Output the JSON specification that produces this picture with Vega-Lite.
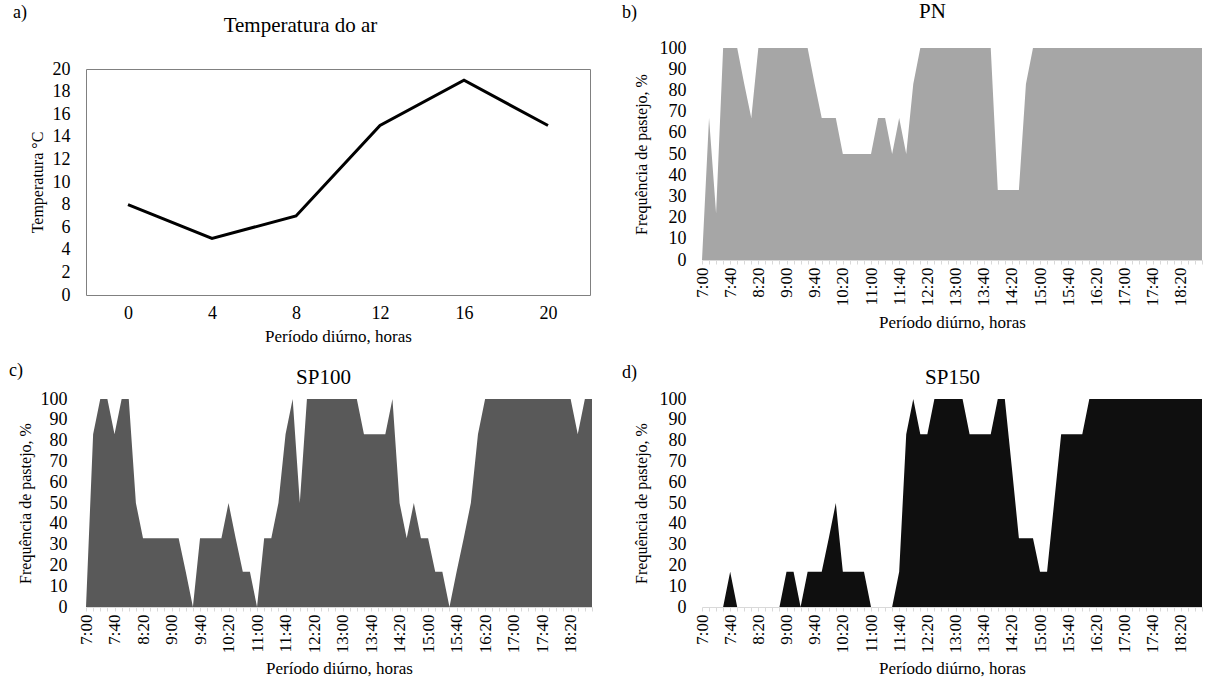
{
  "$schema": "https://vega.github.io/schema/vega-lite/v6.json",
  "background": "white",
  "padding": {"left": 9, "top": 0, "right": 0, "bottom": 0},
  "config": {
    "font": "Liberation Serif",
    "view": {"stroke": null},
    "axis": {"labelFont": "Liberation Serif", "titleFont": "Liberation Serif", "labelColor": "#000", "titleColor": "#000", "titleFontWeight": "normal", "grid": false},
    "title": {"font": "Liberation Serif", "fontWeight": "normal", "color": "#000"}
  },
  "datasets": {
    "temp": [
      {"hora": 0, "temp": 8}, {"hora": 4, "temp": 5}, {"hora": 8, "temp": 7},
      {"hora": 12, "temp": 15}, {"hora": 16, "temp": 19}, {"hora": 20, "temp": 15}
    ],
    "pn": [
      {"hora":"7:00","freq":0},{"hora":"7:10","freq":67},{"hora":"7:20","freq":22},{"hora":"7:30","freq":100},{"hora":"7:40","freq":100},{"hora":"7:50","freq":100},
      {"hora":"8:00","freq":83},{"hora":"8:10","freq":67},{"hora":"8:20","freq":100},{"hora":"8:30","freq":100},{"hora":"8:40","freq":100},{"hora":"8:50","freq":100},
      {"hora":"9:00","freq":100},{"hora":"9:10","freq":100},{"hora":"9:20","freq":100},{"hora":"9:30","freq":100},{"hora":"9:40","freq":83},{"hora":"9:50","freq":67},
      {"hora":"10:00","freq":67},{"hora":"10:10","freq":67},{"hora":"10:20","freq":50},{"hora":"10:30","freq":50},{"hora":"10:40","freq":50},{"hora":"10:50","freq":50},
      {"hora":"11:00","freq":50},{"hora":"11:10","freq":67},{"hora":"11:20","freq":67},{"hora":"11:30","freq":50},{"hora":"11:40","freq":67},{"hora":"11:50","freq":50},
      {"hora":"12:00","freq":83},{"hora":"12:10","freq":100},{"hora":"12:20","freq":100},{"hora":"12:30","freq":100},{"hora":"12:40","freq":100},{"hora":"12:50","freq":100},
      {"hora":"13:00","freq":100},{"hora":"13:10","freq":100},{"hora":"13:20","freq":100},{"hora":"13:30","freq":100},{"hora":"13:40","freq":100},{"hora":"13:50","freq":100},
      {"hora":"14:00","freq":33},{"hora":"14:10","freq":33},{"hora":"14:20","freq":33},{"hora":"14:30","freq":33},{"hora":"14:40","freq":83},{"hora":"14:50","freq":100},
      {"hora":"15:00","freq":100},{"hora":"15:10","freq":100},{"hora":"15:20","freq":100},{"hora":"15:30","freq":100},{"hora":"15:40","freq":100},{"hora":"15:50","freq":100},
      {"hora":"16:00","freq":100},{"hora":"16:10","freq":100},{"hora":"16:20","freq":100},{"hora":"16:30","freq":100},{"hora":"16:40","freq":100},{"hora":"16:50","freq":100},
      {"hora":"17:00","freq":100},{"hora":"17:10","freq":100},{"hora":"17:20","freq":100},{"hora":"17:30","freq":100},{"hora":"17:40","freq":100},{"hora":"17:50","freq":100},
      {"hora":"18:00","freq":100},{"hora":"18:10","freq":100},{"hora":"18:20","freq":100},{"hora":"18:30","freq":100},{"hora":"18:40","freq":100},{"hora":"18:50","freq":100}
    ],
    "sp100": [
      {"hora":"7:00","freq":0},{"hora":"7:10","freq":83},{"hora":"7:20","freq":100},{"hora":"7:30","freq":100},{"hora":"7:40","freq":83},{"hora":"7:50","freq":100},
      {"hora":"8:00","freq":100},{"hora":"8:10","freq":50},{"hora":"8:20","freq":33},{"hora":"8:30","freq":33},{"hora":"8:40","freq":33},{"hora":"8:50","freq":33},
      {"hora":"9:00","freq":33},{"hora":"9:10","freq":33},{"hora":"9:20","freq":17},{"hora":"9:30","freq":0},{"hora":"9:40","freq":33},{"hora":"9:50","freq":33},
      {"hora":"10:00","freq":33},{"hora":"10:10","freq":33},{"hora":"10:20","freq":50},{"hora":"10:30","freq":33},{"hora":"10:40","freq":17},{"hora":"10:50","freq":17},
      {"hora":"11:00","freq":0},{"hora":"11:10","freq":33},{"hora":"11:20","freq":33},{"hora":"11:30","freq":50},{"hora":"11:40","freq":83},{"hora":"11:50","freq":100},
      {"hora":"12:00","freq":50},{"hora":"12:10","freq":100},{"hora":"12:20","freq":100},{"hora":"12:30","freq":100},{"hora":"12:40","freq":100},{"hora":"12:50","freq":100},
      {"hora":"13:00","freq":100},{"hora":"13:10","freq":100},{"hora":"13:20","freq":100},{"hora":"13:30","freq":83},{"hora":"13:40","freq":83},{"hora":"13:50","freq":83},
      {"hora":"14:00","freq":83},{"hora":"14:10","freq":100},{"hora":"14:20","freq":50},{"hora":"14:30","freq":33},{"hora":"14:40","freq":50},{"hora":"14:50","freq":33},
      {"hora":"15:00","freq":33},{"hora":"15:10","freq":17},{"hora":"15:20","freq":17},{"hora":"15:30","freq":0},{"hora":"15:40","freq":17},{"hora":"15:50","freq":33},
      {"hora":"16:00","freq":50},{"hora":"16:10","freq":83},{"hora":"16:20","freq":100},{"hora":"16:30","freq":100},{"hora":"16:40","freq":100},{"hora":"16:50","freq":100},
      {"hora":"17:00","freq":100},{"hora":"17:10","freq":100},{"hora":"17:20","freq":100},{"hora":"17:30","freq":100},{"hora":"17:40","freq":100},{"hora":"17:50","freq":100},
      {"hora":"18:00","freq":100},{"hora":"18:10","freq":100},{"hora":"18:20","freq":100},{"hora":"18:30","freq":83},{"hora":"18:40","freq":100},{"hora":"18:50","freq":100}
    ],
    "sp150": [
      {"hora":"7:00","freq":0},{"hora":"7:10","freq":0},{"hora":"7:20","freq":0},{"hora":"7:30","freq":0},{"hora":"7:40","freq":17},{"hora":"7:50","freq":0},
      {"hora":"8:00","freq":0},{"hora":"8:10","freq":0},{"hora":"8:20","freq":0},{"hora":"8:30","freq":0},{"hora":"8:40","freq":0},{"hora":"8:50","freq":0},
      {"hora":"9:00","freq":17},{"hora":"9:10","freq":17},{"hora":"9:20","freq":0},{"hora":"9:30","freq":17},{"hora":"9:40","freq":17},{"hora":"9:50","freq":17},
      {"hora":"10:00","freq":33},{"hora":"10:10","freq":50},{"hora":"10:20","freq":17},{"hora":"10:30","freq":17},{"hora":"10:40","freq":17},{"hora":"10:50","freq":17},
      {"hora":"11:00","freq":0},{"hora":"11:10","freq":0},{"hora":"11:20","freq":0},{"hora":"11:30","freq":0},{"hora":"11:40","freq":17},{"hora":"11:50","freq":83},
      {"hora":"12:00","freq":100},{"hora":"12:10","freq":83},{"hora":"12:20","freq":83},{"hora":"12:30","freq":100},{"hora":"12:40","freq":100},{"hora":"12:50","freq":100},
      {"hora":"13:00","freq":100},{"hora":"13:10","freq":100},{"hora":"13:20","freq":83},{"hora":"13:30","freq":83},{"hora":"13:40","freq":83},{"hora":"13:50","freq":83},
      {"hora":"14:00","freq":100},{"hora":"14:10","freq":100},{"hora":"14:20","freq":67},{"hora":"14:30","freq":33},{"hora":"14:40","freq":33},{"hora":"14:50","freq":33},
      {"hora":"15:00","freq":17},{"hora":"15:10","freq":17},{"hora":"15:20","freq":50},{"hora":"15:30","freq":83},{"hora":"15:40","freq":83},{"hora":"15:50","freq":83},
      {"hora":"16:00","freq":83},{"hora":"16:10","freq":100},{"hora":"16:20","freq":100},{"hora":"16:30","freq":100},{"hora":"16:40","freq":100},{"hora":"16:50","freq":100},
      {"hora":"17:00","freq":100},{"hora":"17:10","freq":100},{"hora":"17:20","freq":100},{"hora":"17:30","freq":100},{"hora":"17:40","freq":100},{"hora":"17:50","freq":100},
      {"hora":"18:00","freq":100},{"hora":"18:10","freq":100},{"hora":"18:20","freq":100},{"hora":"18:30","freq":100},{"hora":"18:40","freq":100},{"hora":"18:50","freq":100}
    ]
  },
  "spacing": 22,
  "hconcat": [
    {
      "spacing": 17,
      "vconcat": [
        {
          "spacing": 10,
          "vconcat": [
            {
              "title": {"text": "a)", "anchor": "start", "frame": "bounds", "fontSize": 18, "offset": 0, "dx": -73, "dy": 8},
              "width": 504,
              "height": 1,
              "data": {"name": "temp"},
              "mark": {"type": "line", "opacity": 0},
              "encoding": {
                "x": {"field": "hora", "type": "ordinal", "sort": null,
                      "axis": {"orient": "top", "title": "Temperatura do ar", "labels": false, "ticks": false, "domain": false, "titleFont": "Liberation Serif", "titleFontSize": 21, "titlePadding": 13, "titleX": 214}},
                "y": {"field": "temp", "type": "quantitative", "axis": null}
              }
            },
            {
              "width": 504,
              "height": 226,
              "data": {"name": "temp"},
              "view": {"stroke": "#808080", "strokeWidth": 1},
              "mark": {"type": "line", "color": "#000000", "strokeWidth": 3},
              "encoding": {
                "x": {"field": "hora", "type": "ordinal", "sort": null, "scale": {"type": "point", "padding": 0.5},
                      "axis": {"orient": "bottom", "title": "Período diúrno, horas", "labelAngle": 0, "domain": false, "ticks": false, "labelFont": "Liberation Serif", "titleFont": "Liberation Serif", "labelFontSize": 18, "titleFontSize": 17, "labelPadding": 9, "titlePadding": 6}},
                "y": {"field": "temp", "type": "quantitative", "scale": {"domain": [0, 20]},
                      "axis": {"values": [0, 2, 4, 6, 8, 10, 12, 14, 16, 18, 20], "title": "Temperatura °C", "domain": false, "ticks": false, "labelFont": "Liberation Serif", "titleFont": "Liberation Serif", "labelFontSize": 18, "titleFontSize": 16, "labelPadding": 16, "titlePadding": 7}}
              }
            }
          ]
        },
        {
          "title": {"text": "c)", "anchor": "start", "frame": "bounds", "fontSize": 18, "offset": 0, "dx": -8, "dy": 14},
          "width": 506,
          "height": 208,
          "data": {"name": "sp100"},
          "encoding": {
            "y": {"field": "freq", "type": "quantitative", "scale": {"domain": [0, 100]},
                  "axis": {"values": [0, 10, 20, 30, 40, 50, 60, 70, 80, 90, 100], "title": "Frequência de pastejo, %", "domain": false, "ticks": false, "labelFont": "Liberation Serif", "titleFont": "Liberation Serif", "labelFontSize": 18, "titleFontSize": 16, "labelPadding": 19, "titlePadding": 7}}
          },
          "layer": [
            {
              "mark": {"type": "area", "color": "#595959"},
              "encoding": {
                "x": {"field": "hora", "type": "ordinal", "sort": null, "scale": {"type": "point", "padding": 0},
                      "axis": {"orient": "bottom", "title": "Período diúrno, horas", "labelAngle": -90, "labelOverlap": false,
                               "labelExpr": "indexof(['7:00','7:40','8:20','9:00','9:40','10:20','11:00','11:40','12:20','13:00','13:40','14:20','15:00','15:40','16:20','17:00','17:40','18:20'], datum.value) >= 0 ? datum.value : ''",
                               "domainColor": "#d9d9d9", "tickColor": "#d9d9d9", "tickSize": 4, "labelFont": "Liberation Serif", "titleFont": "Liberation Serif", "labelFontSize": 17, "titleFontSize": 17, "labelPadding": 3, "titlePadding": 8}}
              }
            },
            {
              "mark": {"type": "area", "opacity": 0},
              "encoding": {
                "x": {"field": "hora", "type": "ordinal", "sort": null,
                      "axis": {"orient": "top", "title": "SP100", "labels": false, "ticks": false, "domain": false, "titleFont": "Liberation Serif", "titleFontSize": 21, "titlePadding": 12, "titleX": 237}}
              }
            }
          ],
          "resolve": {"axis": {"x": "independent"}}
        }
      ]
    },
    {
      "spacing": 33,
      "vconcat": [
        {
          "title": {"text": "b)", "anchor": "start", "frame": "bounds", "fontSize": 18, "offset": 0, "dx": -11, "dy": 22},
          "width": 500,
          "height": 212,
          "data": {"name": "pn"},
          "encoding": {
            "y": {"field": "freq", "type": "quantitative", "scale": {"domain": [0, 100]},
                  "axis": {"values": [0, 10, 20, 30, 40, 50, 60, 70, 80, 90, 100], "title": "Frequência de pastejo, %", "domain": false, "ticks": false, "labelFont": "Liberation Serif", "titleFont": "Liberation Serif", "labelFontSize": 18, "titleFontSize": 16, "labelPadding": 16, "titlePadding": 10}}
          },
          "layer": [
            {
              "mark": {"type": "area", "color": "#a6a6a6"},
              "encoding": {
                "x": {"field": "hora", "type": "ordinal", "sort": null, "scale": {"type": "point", "padding": 0},
                      "axis": {"orient": "bottom", "title": "Período diúrno, horas", "labelAngle": -90, "labelOverlap": false,
                               "labelExpr": "indexof(['7:00','7:40','8:20','9:00','9:40','10:20','11:00','11:40','12:20','13:00','13:40','14:20','15:00','15:40','16:20','17:00','17:40','18:20'], datum.value) >= 0 ? datum.value : ''",
                               "domainColor": "#d9d9d9", "tickColor": "#d9d9d9", "tickSize": 4, "labelFont": "Liberation Serif", "titleFont": "Liberation Serif", "labelFontSize": 17, "titleFontSize": 17, "labelPadding": 3, "titlePadding": 9}}
              }
            },
            {
              "mark": {"type": "area", "opacity": 0},
              "encoding": {
                "x": {"field": "hora", "type": "ordinal", "sort": null,
                      "axis": {"orient": "top", "title": "PN", "labels": false, "ticks": false, "domain": false, "titleFont": "Liberation Serif", "titleFontSize": 21, "titlePadding": 27, "titleX": 230}}
              }
            }
          ],
          "resolve": {"axis": {"x": "independent"}}
        },
        {
          "title": {"text": "d)", "anchor": "start", "frame": "bounds", "fontSize": 18, "offset": 0, "dx": -11, "dy": 16},
          "width": 500,
          "height": 208,
          "data": {"name": "sp150"},
          "encoding": {
            "y": {"field": "freq", "type": "quantitative", "scale": {"domain": [0, 100]},
                  "axis": {"values": [0, 10, 20, 30, 40, 50, 60, 70, 80, 90, 100], "title": "Frequência de pastejo, %", "domain": false, "ticks": false, "labelFont": "Liberation Serif", "titleFont": "Liberation Serif", "labelFontSize": 18, "titleFontSize": 16, "labelPadding": 16, "titlePadding": 10}}
          },
          "layer": [
            {
              "mark": {"type": "area", "color": "#0f0f0f"},
              "encoding": {
                "x": {"field": "hora", "type": "ordinal", "sort": null, "scale": {"type": "point", "padding": 0},
                      "axis": {"orient": "bottom", "title": "Período diúrno, horas", "labelAngle": -90, "labelOverlap": false,
                               "labelExpr": "indexof(['7:00','7:40','8:20','9:00','9:40','10:20','11:00','11:40','12:20','13:00','13:40','14:20','15:00','15:40','16:20','17:00','17:40','18:20'], datum.value) >= 0 ? datum.value : ''",
                               "domainColor": "#d9d9d9", "tickColor": "#d9d9d9", "tickSize": 4, "labelFont": "Liberation Serif", "titleFont": "Liberation Serif", "labelFontSize": 17, "titleFontSize": 17, "labelPadding": 3, "titlePadding": 8}}
              }
            },
            {
              "mark": {"type": "area", "opacity": 0},
              "encoding": {
                "x": {"field": "hora", "type": "ordinal", "sort": null,
                      "axis": {"orient": "top", "title": "SP150", "labels": false, "ticks": false, "domain": false, "titleFont": "Liberation Serif", "titleFontSize": 21, "titlePadding": 12}}
              }
            }
          ],
          "resolve": {"axis": {"x": "independent"}}
        }
      ]
    }
  ]
}
